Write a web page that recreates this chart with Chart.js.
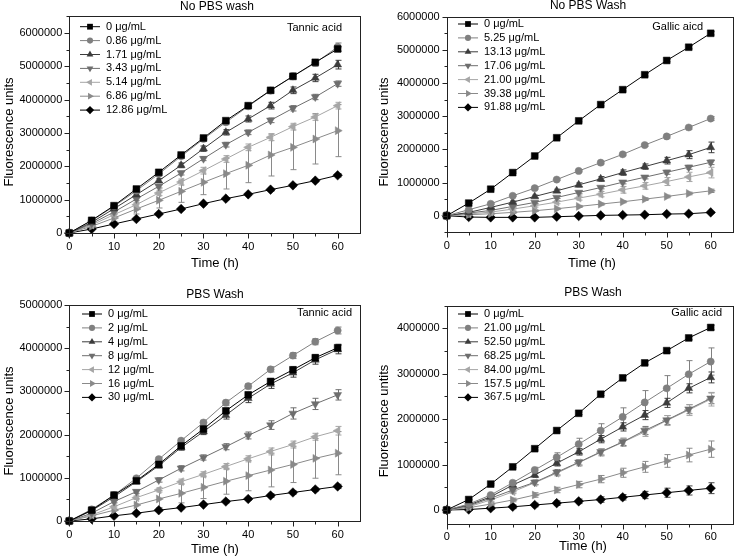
<!DOCTYPE html>
<html>
<head>
<meta charset="utf-8">
<script src="https://cdn.jsdelivr.net/npm/chart.js@4.4.0/dist/chart.umd.min.js"></script>
<style>
  body { margin: 0; background: #fff; width: 738px; height: 559px; position: relative; overflow: hidden; }
  canvas { position: absolute; }
</style>
</head>
<body>
<canvas id="c1" width="370" height="280" style="left:0;top:0"></canvas>
<canvas id="c2" width="368" height="280" style="left:370px;top:0"></canvas>
<canvas id="c3" width="370" height="279" style="left:0;top:280px"></canvas>
<canvas id="c4" width="368" height="279" style="left:370px;top:280px"></canvas>
<script>
// Time points (h) and axis tick labels
const times = [0, 5, 10, 15, 20, 25, 30, 35, 40, 45, 50, 55, 60];
const xTicks = [0, 10, 20, 30, 40, 50, 60];
const yTicksTannicNoWash = [0, 1000000, 2000000, 3000000, 4000000, 5000000, 6000000];
const yTicksGallicNoWash = [0, 1000000, 2000000, 3000000, 4000000, 5000000, 6000000];
const yTicksTannicWash = [0, 1000000, 2000000, 3000000, 4000000, 5000000];
const yTicksGallicWash = [0, 1000000, 2000000, 3000000, 4000000];

// Values in millions of fluorescence units, one row per concentration
const tannicNoWashLabels = ['0 μg/mL', '0.86 μg/mL', '1.71 μg/mL', '3.43 μg/mL', '5.14 μg/mL', '6.86 μg/mL', '12.86 μg/mL'];
const tannicNoWash = [
    [0, 0.38, 0.82, 1.32, 1.82, 2.34, 2.85, 3.37, 3.82, 4.28, 4.70, 5.12, 5.52],
    [0, 0.37, 0.80, 1.27, 1.77, 2.30, 2.82, 3.32, 3.80, 4.27, 4.70, 5.10, 5.58],
    [0, 0.32, 0.73, 1.15, 1.57, 2.03, 2.53, 3.02, 3.42, 3.82, 4.28, 4.65, 5.05],
    [0, 0.28, 0.63, 1.02, 1.40, 1.80, 2.23, 2.65, 3.02, 3.38, 3.74, 4.08, 4.48],
    [0, 0.24, 0.55, 0.85, 1.20, 1.53, 1.87, 2.22, 2.57, 2.87, 3.19, 3.48, 3.82],
    [0, 0.20, 0.45, 0.72, 0.98, 1.25, 1.52, 1.78, 2.03, 2.34, 2.57, 2.82, 3.07],
    [0, 0.12, 0.27, 0.42, 0.57, 0.72, 0.88, 1.03, 1.16, 1.30, 1.43, 1.57, 1.73]
];
const tannicNoWashErr = [
    [0, .02, .03, .04, .04, .05, .05, .05, .05, .05, .06, .06, .07],
    [0, .02, .03, .04, .05, .06, .06, .07, .07, .08, .10, .10, .12],
    [0, .02, .03, .05, .06, .07, .08, .08, .09, .10, .10, .11, .13],
    [0, .02, .03, .04, .05, .06, .06, .07, .07, .07, .08, .08, .08],
    [0, .03, .05, .07, .08, .09, .10, .10, .10, .10, .10, .10, .10],
    [0, .05, .10, .15, .23, .33, .37, .46, .52, .63, .67, .75, .78],
    [0, .01, .02, .02, .02, .03, .03, .03, .03, .04, .04, .04, .05]
];

const gallicNoWashLabels = ['0 μg/mL', '5.25 μg/mL', '13.13 μg/mL', '17.06 μg/mL', '21.00 μg/mL', '39.38 μg/mL', '91.88 μg/mL'];
const gallicNoWash = [
    [0, 0.38, 0.80, 1.30, 1.80, 2.35, 2.86, 3.35, 3.80, 4.25, 4.68, 5.08, 5.50],
    [0, 0.18, 0.36, 0.60, 0.83, 1.09, 1.35, 1.60, 1.85, 2.13, 2.39, 2.66, 2.93],
    [0, 0.10, 0.25, 0.41, 0.58, 0.75, 0.93, 1.11, 1.30, 1.48, 1.66, 1.84, 2.06],
    [0, 0.08, 0.16, 0.28, 0.40, 0.55, 0.70, 0.85, 1.01, 1.16, 1.31, 1.46, 1.61],
    [0, 0.05, 0.11, 0.20, 0.30, 0.41, 0.53, 0.65, 0.78, 0.90, 1.03, 1.17, 1.30],
    [0, 0.03, 0.06, 0.10, 0.15, 0.21, 0.28, 0.35, 0.42, 0.50, 0.58, 0.67, 0.75],
    [0, -0.04, -0.05, -0.05, -0.05, -0.03, -0.01, 0.01, 0.02, 0.03, 0.05, 0.06, 0.10]
];
const gallicNoWashErr = [
    [0, .01, .02, .02, .03, .03, .03, .04, .04, .04, .04, .05, .05],
    [0, .01, .02, .02, .03, .03, .03, .04, .04, .04, .05, .05, .06],
    [0, .01, .02, .03, .04, .05, .06, .07, .08, .08, .10, .12, .16],
    [0, .01, .02, .02, .03, .03, .04, .04, .05, .05, .06, .06, .07],
    [0, .01, .02, .03, .04, .05, .06, .08, .10, .10, .12, .14, .16],
    [0, .01, .01, .02, .02, .02, .03, .03, .03, .04, .04, .04, .05],
    [0, .01, .01, .01, .01, .01, .01, .01, .01, .02, .02, .02, .02]
];

const tannicWashLabels = ['0 μg/mL', '2 μg/mL', '4 μg/mL', '8 μg/mL', '12 μg/mL', '16 μg/mL', '30 μg/mL'];
const tannicWash = [
    [0, 0.25, 0.60, 0.93, 1.31, 1.74, 2.13, 2.55, 2.92, 3.23, 3.50, 3.78, 4.01],
    [0, 0.27, 0.60, 0.99, 1.43, 1.86, 2.28, 2.74, 3.12, 3.51, 3.83, 4.15, 4.41],
    [0, 0.24, 0.56, 0.91, 1.28, 1.70, 2.07, 2.45, 2.84, 3.17, 3.43, 3.73, 3.97],
    [0, 0.18, 0.45, 0.68, 0.95, 1.22, 1.47, 1.72, 1.98, 2.22, 2.49, 2.71, 2.92],
    [0, 0.14, 0.33, 0.54, 0.72, 0.91, 1.08, 1.26, 1.44, 1.61, 1.77, 1.95, 2.09],
    [0, 0.12, 0.25, 0.37, 0.51, 0.64, 0.78, 0.92, 1.05, 1.18, 1.31, 1.45, 1.57],
    [0, 0.05, 0.12, 0.18, 0.25, 0.31, 0.38, 0.45, 0.51, 0.59, 0.66, 0.73, 0.80]
];
const tannicWashErr = [
    [0, .02, .03, .03, .04, .05, .05, .06, .06, .07, .07, .07, .08],
    [0, .02, .03, .04, .04, .05, .05, .06, .06, .06, .07, .07, .08],
    [0, .02, .03, .04, .05, .06, .07, .09, .10, .10, .10, .10, .10],
    [0, .02, .03, .04, .05, .06, .06, .07, .08, .10, .13, .13, .12],
    [0, .02, .03, .04, .05, .06, .06, .07, .07, .08, .08, .08, .10],
    [0, .05, .10, .15, .20, .22, .26, .30, .35, .39, .42, .46, .50],
    [0, .01, .02, .02, .02, .03, .03, .03, .03, .04, .04, .04, .05]
];

const gallicWashLabels = ['0 μg/mL', '21.00 μg/mL', '52.50 μg/mL', '68.25 μg/mL', '84.00 μg/mL', '157.5 μg/mL', '367.5 μg/mL'];
const gallicWash = [
    [0, 0.23, 0.57, 0.95, 1.35, 1.75, 2.13, 2.55, 2.91, 3.24, 3.51, 3.79, 4.02],
    [0, 0.13, 0.33, 0.60, 0.88, 1.16, 1.45, 1.75, 2.05, 2.37, 2.68, 2.99, 3.27],
    [0, 0.11, 0.29, 0.55, 0.77, 1.03, 1.28, 1.56, 1.83, 2.09, 2.36, 2.68, 2.92],
    [0, 0.09, 0.26, 0.44, 0.61, 0.83, 1.05, 1.28, 1.50, 1.75, 1.98, 2.22, 2.46],
    [0, 0.07, 0.22, 0.40, 0.60, 0.81, 1.04, 1.27, 1.49, 1.72, 1.97, 2.20, 2.44],
    [0, 0.05, 0.13, 0.22, 0.33, 0.44, 0.56, 0.68, 0.82, 0.95, 1.08, 1.21, 1.34],
    [0, 0.01, 0.04, 0.07, 0.11, 0.15, 0.19, 0.23, 0.28, 0.33, 0.38, 0.43, 0.48]
];
const gallicWashErr = [
    [0, .01, .02, .02, .03, .03, .03, .03, .04, .04, .04, .04, .05],
    [0, .02, .03, .04, .06, .10, .13, .15, .20, .26, .28, .30, .30],
    [0, .02, .03, .04, .05, .06, .07, .08, .09, .10, .10, .10, .12],
    [0, .02, .03, .04, .05, .06, .06, .07, .08, .09, .10, .10, .12],
    [0, .02, .03, .04, .05, .06, .07, .08, .09, .10, .11, .12, .15],
    [0, .02, .03, .04, .05, .06, .07, .08, .10, .12, .14, .15, .18],
    [0, .02, .03, .04, .04, .05, .05, .06, .06, .08, .10, .10, .12]
];

// Estilo de cada serie (mismo orden en los cuatro paneles)
const seriesColors = ['#000000', '#808080', '#3c3c3c', '#6e6e6e', '#a6a6a6', '#8a8a8a', '#000000'];
const seriesShapes = ['rect', 'circle', 'triangle', 'triangle', 'triangle', 'triangle', 'rectRot'];
const seriesRotation = [0, 0, 0, 180, 270, 90, 0];
const seriesRadius = [4.8, 3.6, 4.6, 4.6, 4.6, 4.6, 4.8];

const FONT = "'Liberation Sans', Arial, sans-serif";
Chart.defaults.font.family = FONT;
Chart.defaults.color = '#000';

// Decoraciones: marco, ticks, textos, leyenda y barras de error
function makeDecor(cfg) {
    return {
        id: 'decor',
        beforeDatasetsDraw(chart) {
            const ctx = chart.ctx;
            const xs = chart.scales.x, ys = chart.scales.y;
            ctx.save();
            ctx.lineWidth = 1;
            cfg.errors.forEach((row, i) => {
                ctx.strokeStyle = seriesColors[i] === '#000000' ? '#444' : seriesColors[i];
                row.forEach((e, j) => {
                    if (!e) return;
                    const v = cfg.values[i][j];
                    const x = Math.round(xs.getPixelForValue(times[j])) + 0.5;
                    const y1 = ys.getPixelForValue((v + e) * 1e6);
                    const y2 = ys.getPixelForValue((v - e) * 1e6);
                    ctx.beginPath();
                    ctx.moveTo(x, y1); ctx.lineTo(x, y2);
                    ctx.moveTo(x - 3, y1); ctx.lineTo(x + 3, y1);
                    ctx.moveTo(x - 3, y2); ctx.lineTo(x + 3, y2);
                    ctx.stroke();
                });
            });
            ctx.restore();
        },
        afterDraw(chart) {
            const ctx = chart.ctx;
            const a = chart.chartArea;
            const xs = chart.scales.x, ys = chart.scales.y;
            ctx.save();
            ctx.strokeStyle = '#222';
            ctx.lineWidth = 1;
            ctx.strokeRect(Math.round(a.left) + 0.5, Math.round(a.top) + 0.5,
                Math.round(a.right) - Math.round(a.left), Math.round(a.bottom) - Math.round(a.top));

            // ticks hacia fuera (mayores y menores)
            ctx.beginPath();
            const by = Math.round(a.bottom) + 0.5;
            for (let t = 0; t <= 60; t += 5) {
                const x = Math.round(xs.getPixelForValue(t)) + 0.5;
                ctx.moveTo(x, by); ctx.lineTo(x, by + (t % 10 === 0 ? 5 : 3));
            }
            const lx = Math.round(a.left) + 0.5;
            for (let v = Math.ceil(cfg.yMin / 5e5) * 5e5; v <= cfg.yMax; v += 5e5) {
                const y = Math.round(ys.getPixelForValue(v)) + 0.5;
                ctx.moveTo(lx, y); ctx.lineTo(lx - (v % 1e6 === 0 ? 5 : 3), y);
            }
            ctx.stroke();

            ctx.fillStyle = '#000';
            ctx.textBaseline = 'middle';
            ctx.textAlign = 'center';
            ctx.font = '12px ' + FONT;
            ctx.fillText(cfg.title, cfg.titlePos[0], cfg.titlePos[1]);
            ctx.font = '13px ' + FONT;
            ctx.fillText('Time (h)', cfg.xLabelPos[0], cfg.xLabelPos[1]);
            ctx.save();
            ctx.translate(cfg.yLabelPos[0], cfg.yLabelPos[1]);
            ctx.rotate(-Math.PI / 2);
            ctx.fillText(cfg.yLabel, 0, 0);
            ctx.restore();

            ctx.font = '11px ' + FONT;
            ctx.textAlign = 'right';
            ctx.fillText(cfg.note, cfg.notePos[0], cfg.notePos[1]);

            // leyenda
            ctx.textAlign = 'left';
            cfg.labels.forEach((lab, i) => {
                const y = cfg.legendPos[1] + i * 13.9;
                const x0 = cfg.legendPos[0];
                ctx.strokeStyle = seriesColors[i];
                ctx.lineWidth = 1;
                ctx.beginPath();
                ctx.moveTo(x0, y); ctx.lineTo(x0 + 20, y);
                ctx.stroke();
                ctx.fillStyle = seriesColors[i];
                Chart.helpers.drawPoint(ctx, {
                    pointStyle: seriesShapes[i], rotation: seriesRotation[i],
                    radius: seriesRadius[i] * 0.85, borderWidth: 0
                }, x0 + 10, y);
                ctx.fillStyle = '#000';
                ctx.fillText(lab, x0 + 26, y);
            });
            ctx.restore();
        }
    };
}

function buildChart(cfg) {
    const datasets = cfg.values.map((row, i) => ({
        label: cfg.labels[i],
        data: row.map((v, j) => ({ x: times[j], y: v * 1e6 })),
        borderColor: seriesColors[i],
        backgroundColor: seriesColors[i],
        borderWidth: 1,
        pointStyle: seriesShapes[i],
        pointRotation: seriesRotation[i],
        pointRadius: seriesRadius[i],
        pointBorderWidth: 0.5,
        tension: 0,
        clip: false
    }));

    new Chart(document.getElementById(cfg.canvas), {
        type: 'line',
        data: { datasets },
        options: {
            responsive: false,
            animation: false,
            devicePixelRatio: 1,
            events: [],
            layout: { padding: { top: cfg.padTop, right: cfg.padRight, left: 0, bottom: 0 } },
            plugins: { legend: { display: false }, tooltip: { enabled: false }, title: { display: false } },
            scales: {
                x: {
                    type: 'linear', min: 0, max: 65,
                    grid: { display: false, drawTicks: false },
                    border: { display: false },
                    ticks: { padding: 7, font: { size: 11 }, color: '#000', maxRotation: 0, autoSkip: false },
                    afterBuildTicks: s => { s.ticks = xTicks.map(v => ({ value: v })); },
                    afterFit: s => { s.height = cfg.xAxisHeight; }
                },
                y: {
                    type: 'linear', min: cfg.yMin, max: cfg.yMax,
                    grid: { display: false, drawTicks: false },
                    border: { display: false },
                    ticks: { padding: 7, font: { size: 11 }, color: '#000', autoSkip: false, callback: v => String(v) },
                    afterBuildTicks: s => { s.ticks = cfg.yTicks.map(v => ({ value: v })); },
                    afterFit: s => { s.width = cfg.yAxisWidth; }
                }
            }
        },
        plugins: [makeDecor(cfg)]
    });
}

buildChart({
    canvas: 'c1', values: tannicNoWash, errors: tannicNoWashErr, labels: tannicNoWashLabels, yTicks: yTicksTannicNoWash,
    yMin: 0, yMax: 6.5e6, yAxisWidth: 69.3, padRight: 10, padTop: 16.3, xAxisHeight: 47,
    title: 'No PBS wash', titlePos: [217, 7], yLabel: 'Fluorescence units', yLabelPos: [9, 132],
    xLabelPos: [215, 263], note: 'Tannic acid', notePos: [342, 28], legendPos: [80, 26.7]
});
buildChart({
    canvas: 'c2', values: gallicNoWash, errors: gallicNoWashErr, labels: gallicNoWashLabels, yTicks: yTicksGallicNoWash,
    yMin: -5e5, yMax: 6e6, yAxisWidth: 76.7, padRight: 1.3, padTop: 16.7, xAxisHeight: 47.7,
    title: 'No PBS Wash', titlePos: [218, 6], yLabel: 'Fluorescence units', yLabelPos: [14, 132],
    xLabelPos: [222, 263], note: 'Gallic aicd', notePos: [333, 27], legendPos: [88, 24]
});
buildChart({
    canvas: 'c3', values: tannicWash, errors: tannicWashErr, labels: tannicWashLabels, yTicks: yTicksTannicWash,
    yMin: 0, yMax: 5e6, yAxisWidth: 69.3, padRight: 10, padTop: 25, xAxisHeight: 38,
    title: 'PBS Wash', titlePos: [215, 15], yLabel: 'Fluorescence units', yLabelPos: [9, 141],
    xLabelPos: [215, 269], note: 'Tannic acid', notePos: [352, 33], legendPos: [82, 34]
});
buildChart({
    canvas: 'c4', values: gallicWash, errors: gallicWashErr, labels: gallicWashLabels, yTicks: yTicksGallicWash,
    yMin: -3e5, yMax: 4.5e6, yAxisWidth: 76.7, padRight: 1.3, padTop: 25.7, xAxisHeight: 35.4,
    title: 'PBS Wash', titlePos: [223, 13], yLabel: 'Fluorescence untits', yLabelPos: [14, 141],
    xLabelPos: [213, 266], note: 'Gallic acid', notePos: [352, 33], legendPos: [88, 34]
});
</script>
</body>
</html>
